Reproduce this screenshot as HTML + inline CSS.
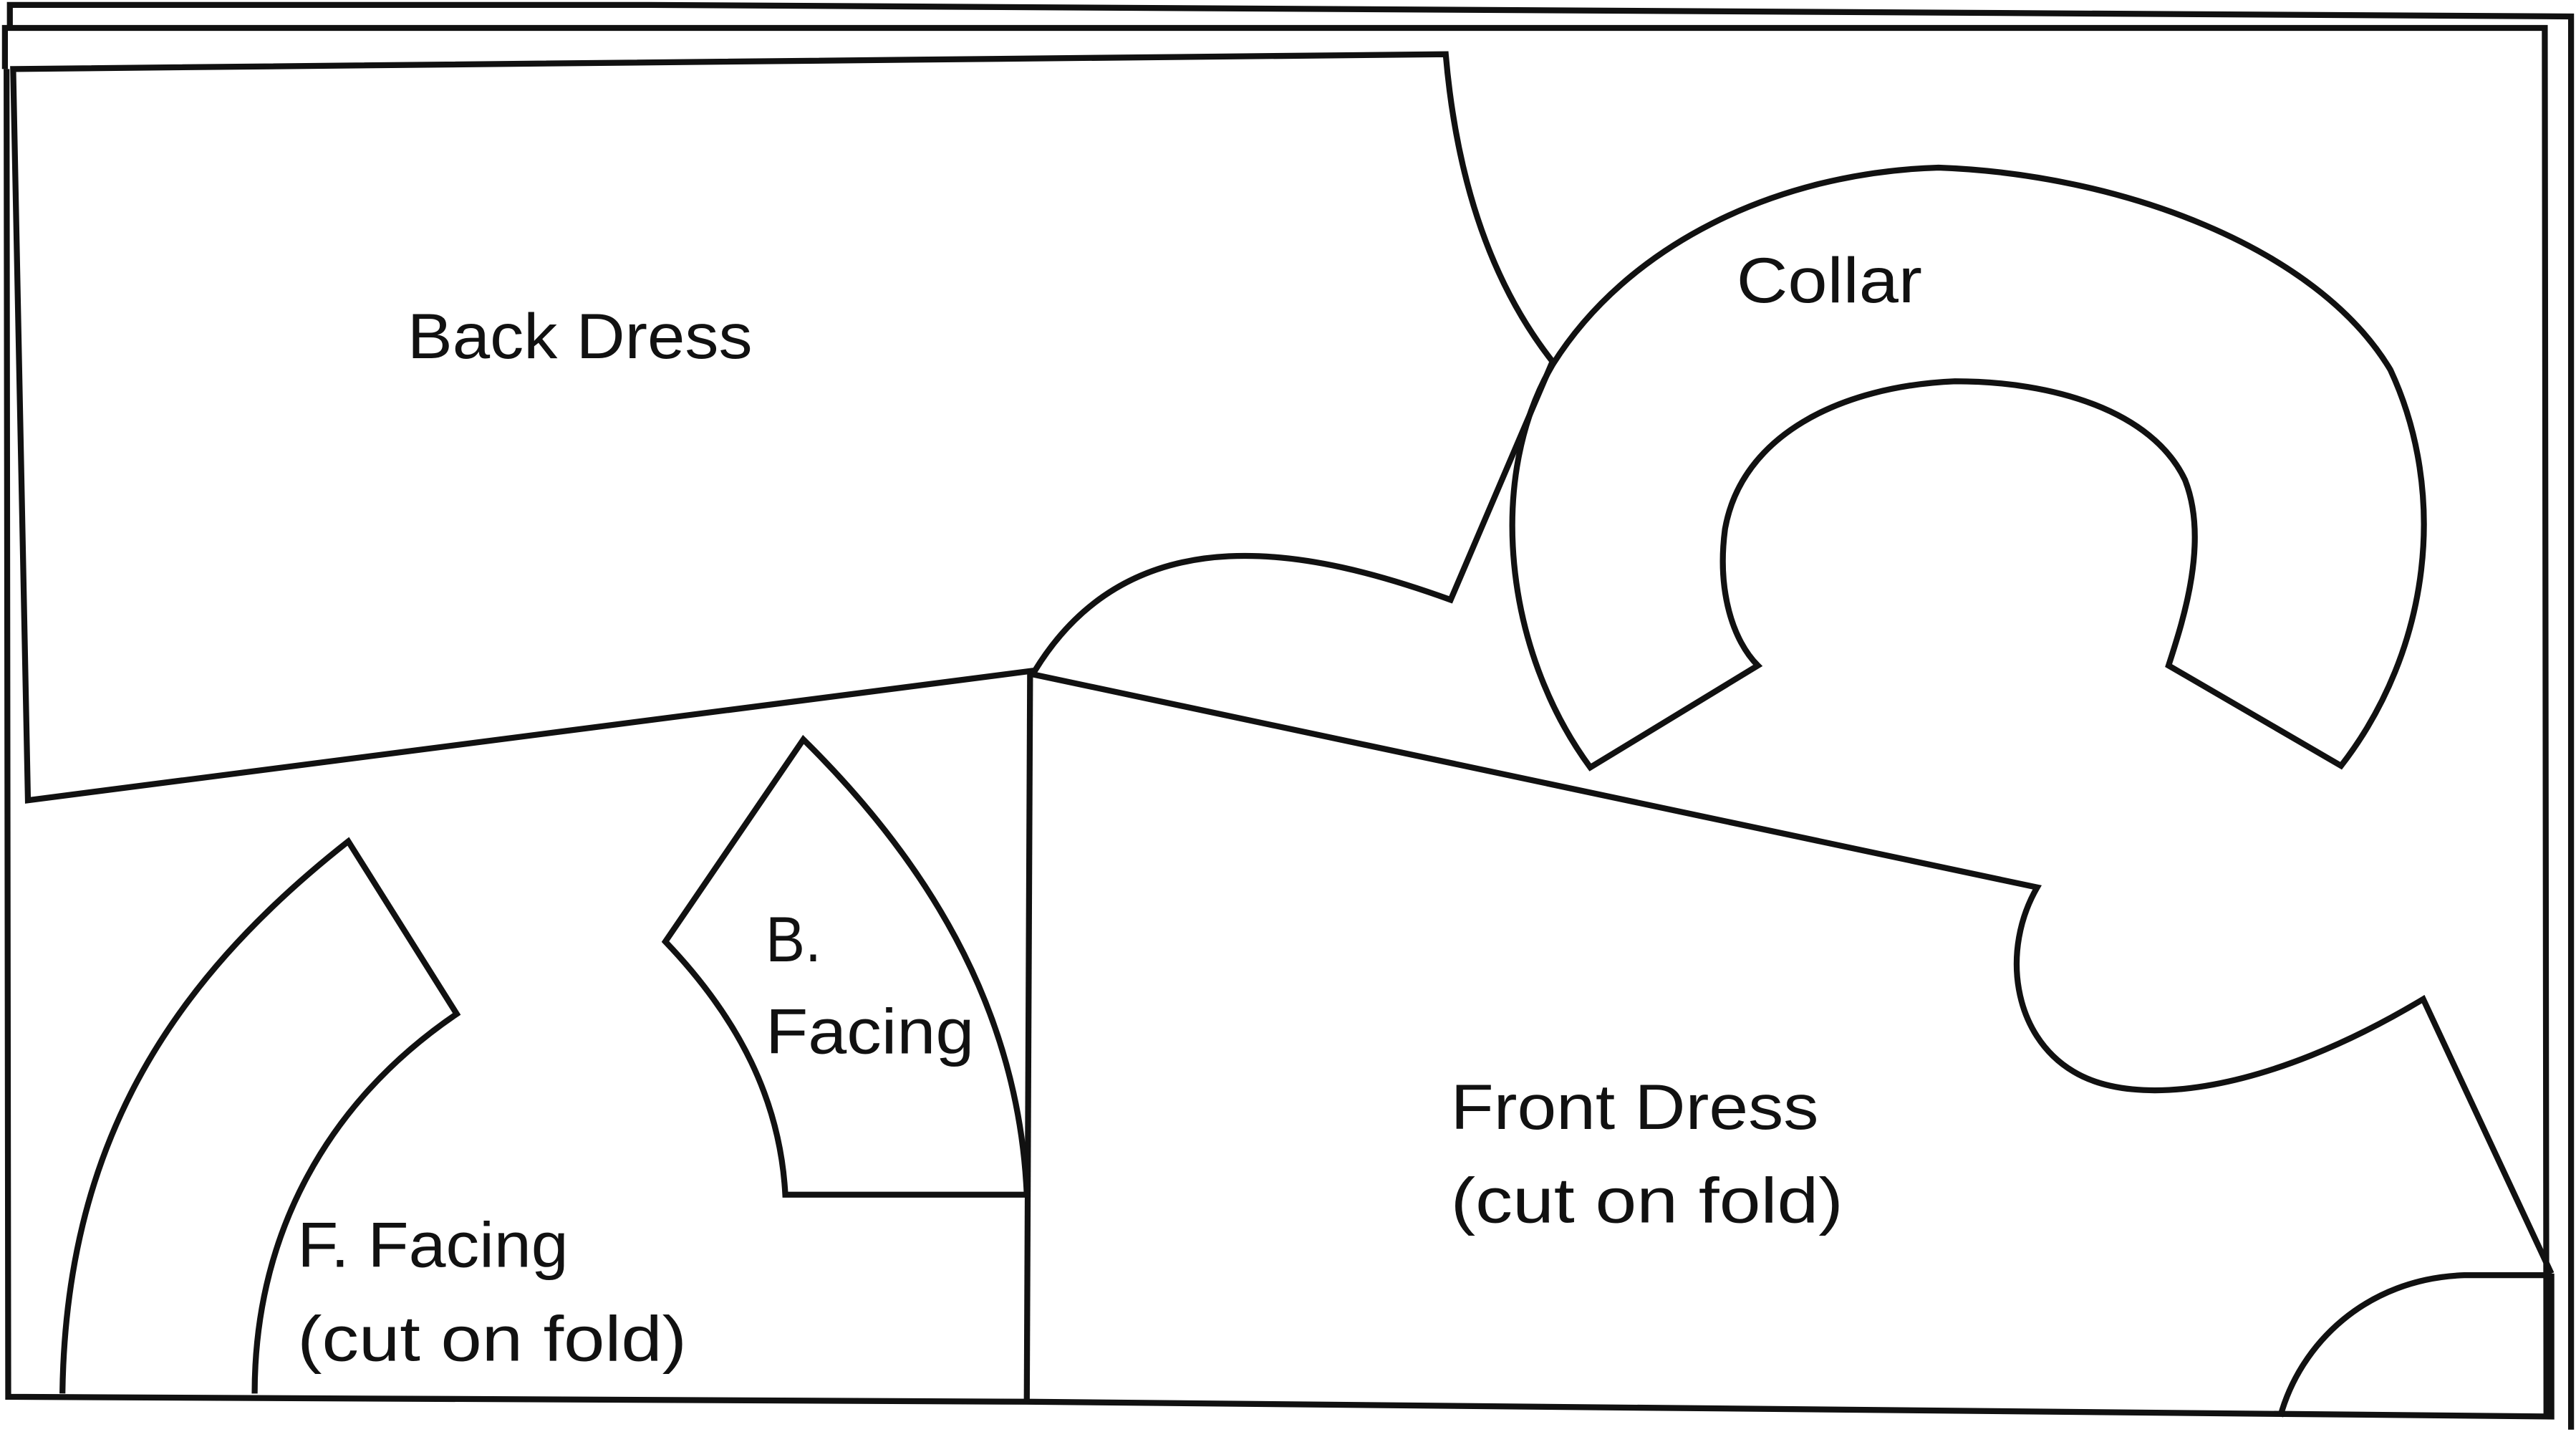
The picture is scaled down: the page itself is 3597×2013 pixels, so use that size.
<!DOCTYPE html>
<html><head><meta charset="utf-8"><style>
html,body{margin:0;padding:0;background:#fff;width:3597px;height:2013px;overflow:hidden}
svg{display:block}
text{font-family:"Liberation Sans",sans-serif;font-size:39px;fill:#111}
</style></head><body>
<svg width="3597" height="2013" viewBox="0 0 1568 877.5" preserveAspectRatio="none" xmlns="http://www.w3.org/2000/svg">
<g fill="none" stroke="#111" stroke-width="3.6" stroke-linejoin="miter">
<path d="M6,16 L6,3 L395,3 L1565,10 L1565,870"/>
<path d="M3,42 L3,17 L1549,17 L1550,862"/>
<path d="M4,42 L5,850 L625,853 L1553,862 L1553,775"/>
<path d="M8,42 L880,33 Q890,150 945,220 L883,365 C800,335 690,310 630,408 L17,487 Z"/>
<path d="M968,467 C915,395 905,290 945,222 C990,150 1080,105 1180,102 C1290,106 1410,150 1455,225 C1490,300 1480,395 1425,466 L1320,405 C1328,380 1345,330 1330,292 C1310,250 1250,232 1190,232 C1120,235 1060,265 1050,322 C1045,360 1055,390 1070,405 Z"/>
<path d="M627,410 L1240,540 C1218,578 1225,630 1262,652 C1300,675 1380,665 1475,608 L1553,775"/>
<path d="M627,410 L625,853"/>
<path d="M1388,862 C1400,818 1440,778 1500,776 L1553,776"/>
<path d="M489,450 L405,573 C450,620 475,670 478,727 L625,727 C620,610 560,520 489,450 Z"/>
<path d="M38,848 C40,700 100,600 212,512 L278,617 C200,670 155,750 155,848"/>
</g>
<text x="248" y="218" textLength="210" lengthAdjust="spacingAndGlyphs">Back Dress</text>
<text x="1057" y="184" textLength="113" lengthAdjust="spacingAndGlyphs">Collar</text>
<text x="466" y="585" textLength="34" lengthAdjust="spacingAndGlyphs">B.</text>
<text x="466" y="641" textLength="127" lengthAdjust="spacingAndGlyphs">Facing</text>
<text x="883" y="687" textLength="224" lengthAdjust="spacingAndGlyphs">Front Dress</text>
<text x="883" y="744" textLength="239" lengthAdjust="spacingAndGlyphs">(cut on fold)</text>
<text x="181" y="771" textLength="165" lengthAdjust="spacingAndGlyphs">F. Facing</text>
<text x="181" y="828" textLength="237" lengthAdjust="spacingAndGlyphs">(cut on fold)</text>
</svg>
</body></html>
